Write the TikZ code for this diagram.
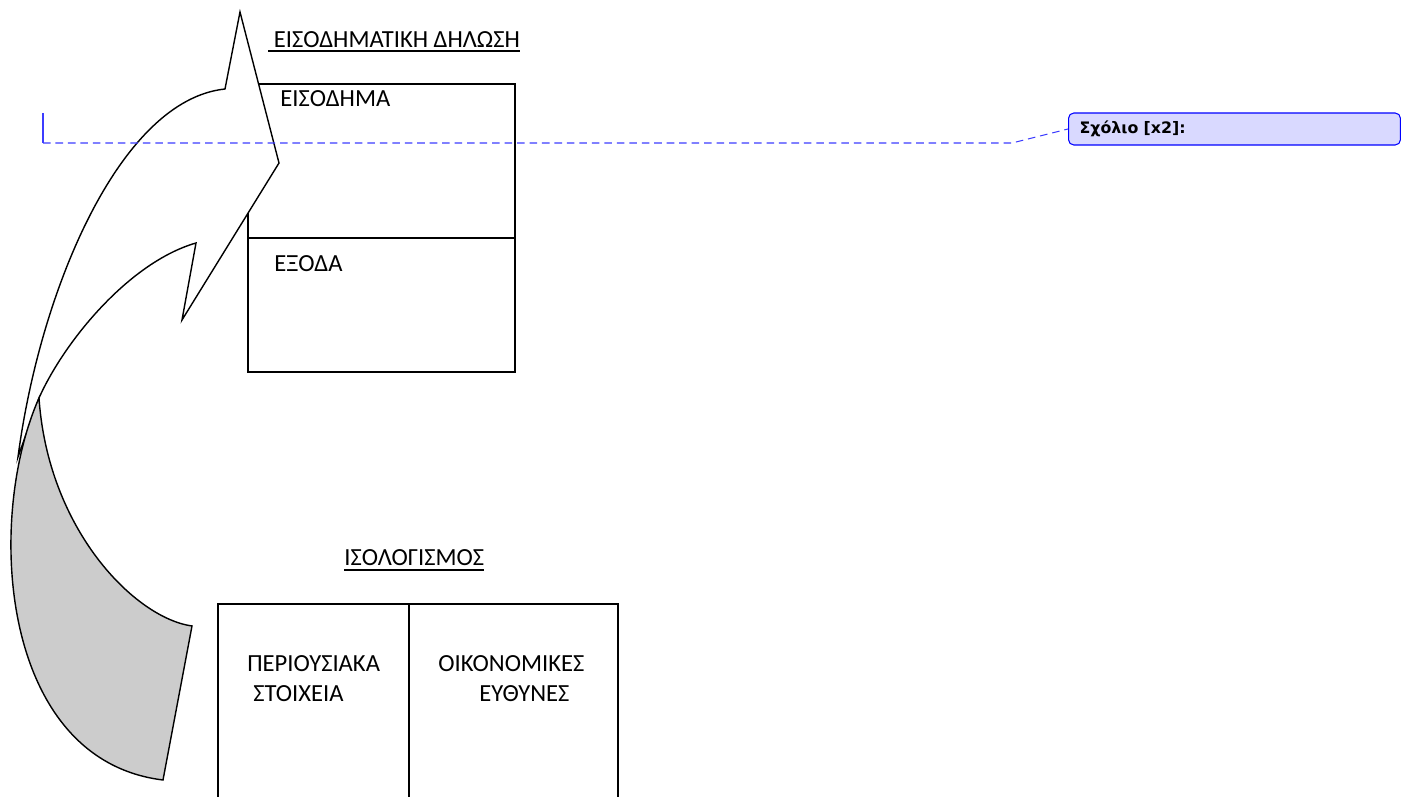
\documentclass[tikz,border=0pt]{standalone}
\usepackage{fontspec}
\setmainfont{Carlito}
\newfontfamily\notefont{DejaVu Sans}
\usepackage{xcolor}
\definecolor{noteblue}{RGB}{60,60,255}
\definecolor{notefill}{RGB}{217,217,255}
\definecolor{arrowgray}{RGB}{204,204,204}

\begin{document}
\begin{tikzpicture}[x=0.02cm, y=-0.02cm,
    txt/.style={anchor=base west, inner sep=0pt, font=\fontsize{14}{17}\selectfont},
    uline/.style={line width=1.1pt},
    boxline/.style={line width=0.8pt},
    notebox/.style={draw=blue, fill=notefill, rounded corners=3pt, anchor=west, line width=0.6pt,
      minimum height=0.64cm, text width=6.2cm, inner xsep=0.22cm, align=left,
      font=\notefont\bfseries\fontsize{9}{10}\selectfont},
    notelink/.style={noteblue, line width=0.6pt, dash pattern=on 4.3pt off 2.8pt}]
  \useasboundingbox (0,0) rectangle (1401,797);
  % income statement
  \draw[boxline] (248,84) rectangle (515,372);
  \draw[boxline] (248,238) -- (515,238);
  % curved arrow
  \filldraw[fill=white, boxline] (39,398) .. controls (65,340) and (130,262) .. (196,243) -- (182,320) -- (279,163) -- (240,12) -- (225,89) .. controls (120,100) and (40,290) .. (18,457) -- cycle;
  \filldraw[fill=arrowgray, boxline] (39,398) .. controls (-15,520) and (0,760) .. (163,780) -- (192,626) .. controls (135,618) and (48,530) .. (39,398) -- cycle;
  % balance sheet
  \draw[boxline] (218,797) -- (218,604) -- (618,604) -- (618,797);
  \draw[boxline] (409,604) -- (409,797);
  % texts
  \node[txt] (title1) at (268,48) {\ ΕΙΣΟΔΗΜΑΤΙΚΗ ΔΗΛΩΣΗ};
  \draw[uline] ([yshift=-0.06cm]title1.base west) -- ([yshift=-0.06cm]title1.base east);
  \node[txt] (income) at (280,107) {ΕΙΣΟΔΗΜΑ};
  \node[txt] (expenses) at (274,272) {ΕΞΟΔΑ};
  \node[txt] (title2) at (344,565) {ΙΣΟΛΟΓΙΣΜΟΣ};
  \draw[uline] ([yshift=-0.1cm]title2.base west) -- ([yshift=-0.1cm]title2.base east);
  \node[txt] (assets1) at (247,671) {ΠΕΡΙΟΥΣΙΑΚΑ};
  \node[txt] (assets2) at (253,701) {ΣΤΟΙΧΕΙΑ};
  \node[txt] (liab1) at (438,671) {ΟΙΚΟΝΟΜΙΚΕΣ};
  \node[txt] (liab2) at (479,701) {ΕΥΘΥΝΕΣ};
  % comment
  \draw[noteblue, line width=1.2pt] (43,113) -- (43,143);
  \coordinate (mark) at (43,143);
  \coordinate (bend) at (1012,143);
  \node[notebox] (note) at (1068,129) {Σχόλιο [x2]:};
  \draw[notelink] (mark) -- (bend) -- (note.west);
\end{tikzpicture}
\end{document}
